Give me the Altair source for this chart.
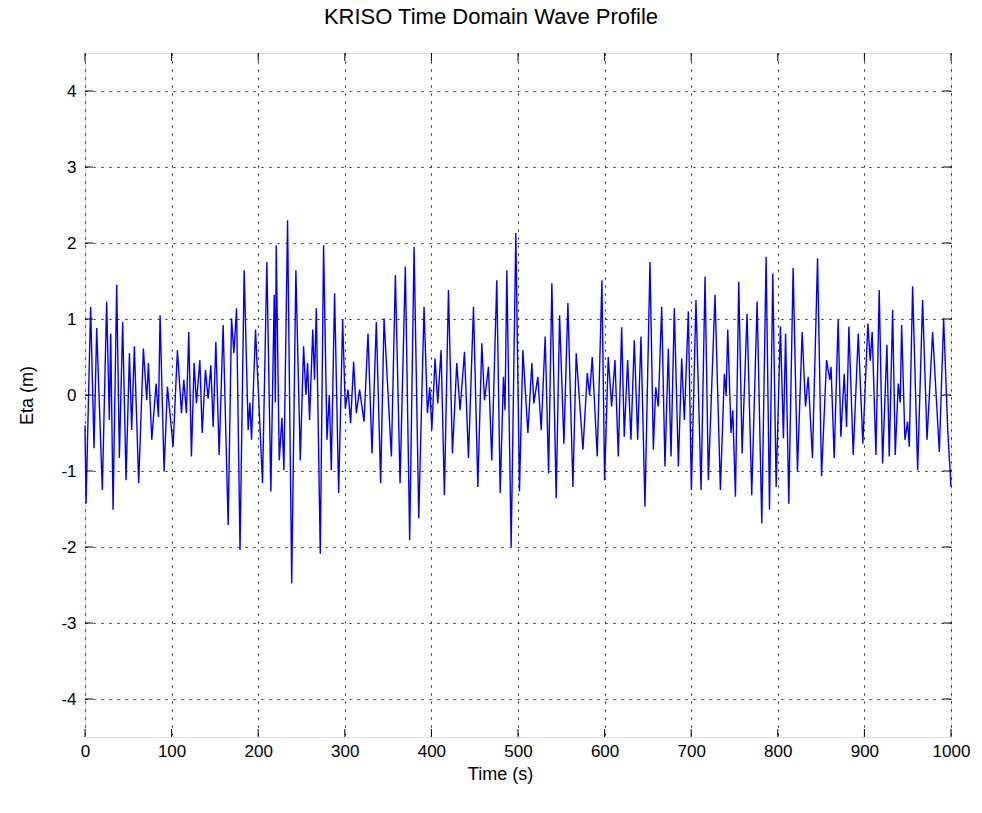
import altair as alt
import pandas as pd

times = [0, 1.2, 6.5, 10.4, 13.5, 20.0, 25.0, 28.1, 29.7, 32.4, 36.6, 39.7, 43.5, 47.4, 51.3, 53.9, 57.0, 62.0,
         67.4, 71.3, 73.2, 77.1, 82.1, 84.8, 86.7, 91.3, 95.2, 101.7, 106.7, 111.4, 114.1, 117.1, 119.8, 122.9,
         126.0, 128.7, 132.6, 135.3, 139.1, 142.2, 145.3, 148.0, 151.1, 154.9, 159.5, 165.3, 169.2, 171.9, 175.0,
         179.0, 183.8, 188.4, 190.4, 192.3, 196.9, 205.0, 210.0, 214.6, 218.5, 219.8, 220.8, 224.3, 227.4, 229.7,
         233.9, 238.7, 243.5, 248.6, 252.4, 255.1, 257.0, 259.3, 263.0, 265.0, 267.1, 271.7, 275.5, 279.4, 282.1,
         284.4, 288.2, 292.9, 297.5, 300.6, 303.7, 306.7, 310.2, 313.3, 317.1, 322.2, 326.8, 331.4, 336.4, 341.4,
         345.3, 353.8, 358.4, 363.8, 369.9, 374.9, 380.0, 385.4, 391.5, 395.4, 398.1, 400.5, 404.2, 407.3, 411.2,
         415.0, 419.7, 424.3, 429.3, 433.1, 438.2, 442.8, 448.6, 453.6, 458.2, 461.3, 465.9, 469.7, 475.5, 479.4,
         483.2, 485.0, 487.1, 492.1, 497.5, 501.7, 505.6, 511.4, 516.0, 518.3, 522.9, 526.8, 531.4, 535.3, 539.1,
         544.1, 548.0, 553.0, 557.6, 563.4, 567.2, 575.0, 580.0, 582.7, 585.7, 591.5, 596.9, 600.0, 604.2, 608.1,
         612.0, 615.8, 619.7, 622.7, 626.6, 630.4, 634.3, 638.2, 642.0, 646.6, 652.4, 656.3, 659.0, 662.0, 665.9,
         669.7, 673.6, 676.7, 680.5, 685.2, 689.0, 692.1, 696.7, 700.2, 705.5, 711.4, 716.0, 719.8, 727.5, 733.7,
         738.3, 740.3, 742.2, 746.0, 748.0, 751.1, 754.9, 758.8, 764.5, 769.9, 776.1, 781.5, 786.5, 790.4, 794.2,
         798.1, 803.0, 806.5, 809.0, 812.7, 817.7, 822.7, 828.1, 832.0, 835.1, 840.0, 845.9, 850.5, 856.3, 860.1,
         861.5, 865.1, 869.7, 872.8, 876.7, 879.4, 882.1, 887.1, 892.9, 898.2, 904.0, 906.7, 909.0, 913.3, 917.1,
         921.0, 926.0, 928.7, 932.6, 935.6, 939.1, 941.4, 943.0, 946.8, 949.9, 951.8, 955.7, 961.5, 967.2, 972.3,
         978.8, 986.5, 991.5, 996.2, 1000]

eta = [-0.40, -1.43, 1.16, -0.70, 0.88, -1.25, 1.23, -0.33, 0.81, -1.51, 1.45, -0.83, 0.96, -1.12, 0.55, -0.46,
       0.64, -1.16, 0.61, -0.07, 0.42, -0.59, 0.15, -0.29, 1.05, -1.01, 0.11, -0.68, 0.59, -0.24, 0.20, -0.24,
       0.83, -0.81, 0.42, -0.11, 0.46, -0.50, 0.33, -0.05, 0.39, -0.42, 0.70, -0.79, 0.92, -1.71, 1.01, 0.55,
       1.14, -2.04, 1.64, -0.46, -0.10, -0.59, 0.86, -1.16, 1.75, -1.27, 1.32, -0.10, 1.97, -0.86, -0.30, -0.99,
       2.30, -2.48, 1.64, -0.86, 0.64, 0.00, 0.42, -0.33, 0.86, 0.20, 1.14, -2.09, 1.97, -0.59, 0.00, -0.99,
       1.34, -1.29, 0.99, -0.18, 0.07, -0.37, 0.44, -0.24, 0.07, -0.35, 0.81, -0.77, 0.96, -1.16, 1.01, -0.81,
       1.58, -1.16, 1.69, -1.91, 1.95, -1.62, 1.16, -0.24, 0.10, -0.46, 0.48, -0.11, 0.59, -1.32, 1.38, -0.77,
       0.42, -0.20, 0.57, -0.83, 1.16, -1.21, 0.68, -0.07, 0.37, -0.86, 1.51, -1.29, 0.24, -0.20, 1.64, -2.00,
       2.13, -1.27, 0.59, -0.50, 0.42, -0.11, 0.24, -0.46, 0.77, -1.03, 1.47, -1.36, 1.05, -0.64, 1.21, -1.21,
       0.55, -0.72, 0.29, 0.00, 0.50, -0.81, 1.51, -1.12, 0.50, -0.15, 0.46, -0.81, 0.89, -0.55, 0.46, -0.59,
       0.72, -0.59, 0.77, -1.47, 1.75, -0.72, 0.10, -0.15, 1.16, -0.94, 0.61, -0.81, 1.14, -0.94, 0.48, -0.33,
       1.10, -1.25, 1.25, -1.25, 1.56, -1.12, 1.32, -1.25, 0.28, 0.00, 0.86, -0.50, -0.20, -1.34, 1.49, -0.77,
       1.07, -1.32, 1.23, -1.69, 1.82, -1.51, 1.60, -1.21, 0.90, -0.57, 0.81, -1.43, 1.67, -1.01, 0.83, -0.15,
       0.24, -0.83, 1.80, -1.07, 0.46, 0.20, 0.37, -0.83, 0.99, -0.55, 0.28, -0.42, 0.90, -0.79, 0.81, -0.64,
       0.94, 0.45, 0.83, -0.79, 1.38, -0.90, 0.66, -0.81, 1.12, -0.79, 0.15, -0.10, 0.92, -0.59, -0.35, -0.68,
       1.43, -0.99, 1.25, -0.59, 0.83, -0.75, 1.01, -0.45, -1.21]

x_ticks = [0, 100, 200, 300, 400, 500, 600, 700, 800, 900, 1000]
y_ticks = [-4, -3, -2, -1, 0, 1, 2, 3, 4]

title_text = "KRISO Time Domain Wave Profile"
x_title = "Time (s)"
y_title = "Eta (m)"

W, H = 866, 684
FONT = "Liberation Sans"

df = pd.DataFrame({"t": times, "eta": eta})
xt = pd.DataFrame({"v": x_ticks})
yt = pd.DataFrame({"v": y_ticks})

xscale = alt.Scale(domain=[0, 1000], nice=False, zero=False)
yscale = alt.Scale(domain=[-4.5, 4.5], nice=False, zero=False)

label_expr = "'' + datum.value"

line = alt.Chart(df).mark_line(color="#0000ff", strokeWidth=1.4).encode(
    x=alt.X("t:Q", scale=xscale,
            axis=alt.Axis(values=x_ticks, title=x_title, grid=True, gridDash=[2, 6],
                          gridColor="#000000", gridOpacity=0.85, gridWidth=1, tickSize=0,
                          domain=False, labelPadding=6, labelFontSize=17, labelFont=FONT,
                          labelColor="black", labelFlush=False, labelExpr=label_expr,
                          titleFontSize=18, titleFont=FONT, titleFontWeight="normal",
                          titleColor="black", titleX=415, titleY=37, titleAlign="center",
                          titleBaseline="middle")),
    y=alt.Y("eta:Q", scale=yscale,
            axis=alt.Axis(values=y_ticks, title=y_title, grid=True, gridDash=[2, 6],
                          gridColor="#000000", gridOpacity=0.85, gridWidth=1, tickSize=0,
                          domain=False, labelPadding=9, labelFontSize=17, labelFont=FONT,
                          labelColor="black", labelExpr=label_expr,
                          titleFontSize=18, titleFont=FONT, titleFontWeight="normal",
                          titleColor="black", titleX=-58, titleY=H / 2, titleAngle=270,
                          titleBaseline="middle", titleAlign="center")),
    order="t:Q",
)

tick_len = 8
bottom_ticks = alt.Chart(xt).mark_rule(color="black", strokeWidth=1).encode(
    x=alt.X("v:Q", scale=xscale), y=alt.value(H), y2=alt.value(H - tick_len))
top_ticks = alt.Chart(xt).mark_rule(color="black", strokeWidth=1).encode(
    x=alt.X("v:Q", scale=xscale), y=alt.value(0), y2=alt.value(tick_len))
left_ticks = alt.Chart(yt).mark_rule(color="black", strokeWidth=1).encode(
    y=alt.Y("v:Q", scale=yscale), x=alt.value(0), x2=alt.value(tick_len))
right_ticks = alt.Chart(yt).mark_rule(color="black", strokeWidth=1).encode(
    y=alt.Y("v:Q", scale=yscale), x=alt.value(W), x2=alt.value(W - tick_len))

chart = alt.layer(line, bottom_ticks, top_ticks, left_ticks, right_ticks).properties(
    width=W, height=H,
    title=alt.TitleParams(title_text, fontSize=22, font=FONT, fontWeight="normal",
                          color="black", anchor="middle", offset=24, dx=-27),
    autosize=alt.AutoSizeParams(type="none"),
    padding={"left": 85, "top": 53, "right": 31, "bottom": 76},
).configure_view(stroke="black", strokeWidth=1.3).configure(background="white")

chart.save("out.html", embed_options={"renderer": "svg", "actions": False})
